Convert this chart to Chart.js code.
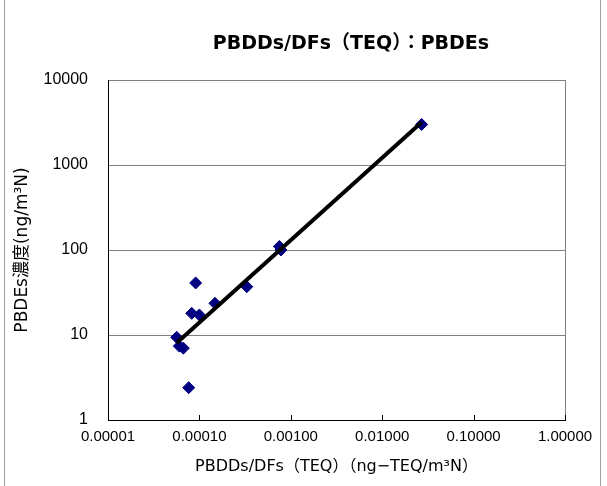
<!DOCTYPE html>
<html>
<head>
<meta charset="utf-8">
<script src="https://cdn.jsdelivr.net/npm/chart.js@4/dist/chart.umd.min.js"></script>
<style>
  html, body { margin: 0; padding: 0; background: #fff; }
  #wrap { width: 607px; height: 486px; position: relative; }
</style>
</head>
<body>
<div id="wrap"><canvas id="myChart" width="607" height="486"></canvas></div>
<script>
// PBDDs/DFs (TEQ) vs PBDEs
var teqValues = [0.027, 0.00075, 0.00078, 0.00033, 0.000148, 0.000091, 0.0000824, 0.0001, 0.0000564, 0.0000603, 0.0000667, 0.0000764];
var pbdeValues = [3000, 110, 100, 37, 23.6, 41, 18, 17.2, 9.4, 7.4, 7.0, 2.4];

var xTicks = [0.00001, 0.0001, 0.001, 0.01, 0.1, 1];
var yTicks = [1, 10, 100, 1000, 10000];

var chartTitle = 'PBDDs/DFs（TEQ）：PBDEs';
var xTitle = 'PBDDs/DFs（TEQ）（ng−TEQ/m³N）';
var yTitle = 'PBDEs濃度(ng/m³N)';

var points = teqValues.map(function (v, i) {
  return { x: v, y: pbdeValues[i] };
});

// power trendline (least squares in log-log space), from min x to max x
var lx = teqValues.map(Math.log10);
var ly = pbdeValues.map(Math.log10);
var n = lx.length;
var mx = lx.reduce(function (a, b) { return a + b; }, 0) / n;
var my = ly.reduce(function (a, b) { return a + b; }, 0) / n;
var sxy = 0, sxx = 0;
for (var i = 0; i < n; i++) {
  sxy += (lx[i] - mx) * (ly[i] - my);
  sxx += (lx[i] - mx) * (lx[i] - mx);
}
var slope = sxy / sxx;
var icpt = my - slope * mx;
var xMin = Math.min.apply(null, teqValues);
var xMax = Math.max.apply(null, teqValues);
var trend = [xMin, xMax].map(function (x) {
  return { x: x, y: Math.pow(10, icpt + slope * Math.log10(x)) };
});

var jpFont = '"DejaVu Sans", "Noto Sans CJK JP", sans-serif';
var numFont = '"Liberation Sans", Arial, sans-serif';

var decorPlugin = {
  id: 'decor',
  beforeDraw: function (chart) {
    var c = chart.ctx;
    c.save();
    c.fillStyle = '#fff';
    c.fillRect(0, 0, chart.width, chart.height);
    c.strokeStyle = '#a0a0a0';
    c.lineWidth = 1;
    c.beginPath();
    c.moveTo(4.5, 0); c.lineTo(4.5, chart.height);
    c.moveTo(600.5, 0); c.lineTo(600.5, chart.height);
    c.stroke();
    c.restore();
  },
  afterDatasetsDraw: function (chart) {
    var c = chart.ctx;
    var a = chart.chartArea;
    var xs = chart.scales.x;
    c.save();
    // right border of plot area
    c.strokeStyle = '#808080';
    c.lineWidth = 1;
    c.beginPath();
    c.moveTo(Math.round(a.right) + 0.5, a.top);
    c.lineTo(Math.round(a.right) + 0.5, a.bottom);
    c.stroke();
    // inner tick marks on x axis
    c.strokeStyle = '#000';
    c.beginPath();
    xTicks.forEach(function (t) {
      var px = Math.round(xs.getPixelForValue(t)) + 0.5;
      c.moveTo(px, a.bottom);
      c.lineTo(px, a.bottom - 5);
    });
    c.stroke();
    // chart title
    c.fillStyle = '#000';
    c.font = 'bold 19px ' + jpFont;
    c.textAlign = 'center';
    c.textBaseline = 'middle';
    c.fillText(chartTitle, 351, 44);
    c.restore();
  }
};

var ctx = document.getElementById('myChart').getContext('2d');
var chart = new Chart(ctx, {
  type: 'scatter',
  data: {
    datasets: [
      {
        label: 'trend',
        type: 'line',
        data: trend,
        borderColor: '#000000',
        borderWidth: 4,
        pointRadius: 0,
        fill: false,
        order: 0
      },
      {
        label: 'PBDEs',
        data: points,
        pointStyle: 'rectRot',
        pointRadius: 6,
        backgroundColor: '#000080',
        borderColor: '#000080',
        borderWidth: 1,
        order: 1
      }
    ]
  },
  options: {
    responsive: false,
    animation: false,
    layout: { padding: { left: 0, right: 42, top: 80, bottom: 0 } },
    plugins: {
      legend: { display: false },
      tooltip: { enabled: false }
    },
    scales: {
      x: {
        type: 'logarithmic',
        min: 0.00001,
        max: 1,
        afterBuildTicks: function (s) { s.ticks = xTicks.map(function (v) { return { value: v }; }); },
        afterFit: function (s) { s.height = 66; },
        grid: { display: false, drawTicks: false },
        border: { display: true, color: '#000', width: 1 },
        ticks: {
          color: '#000',
          font: { family: numFont, size: 15 },
          padding: 8,
          maxRotation: 0,
          autoSkip: false,
          callback: function (v) { return Number(v).toFixed(5); }
        },
        title: {
          display: true,
          text: xTitle,
          color: '#000',
          font: { family: jpFont, size: 16 },
          padding: { top: 0, bottom: 10 }
        }
      },
      y: {
        type: 'logarithmic',
        min: 1,
        max: 10000,
        afterBuildTicks: function (s) { s.ticks = yTicks.map(function (v) { return { value: v }; }); },
        afterFit: function (s) { s.width = 108; },
        grid: { color: '#808080', lineWidth: 1, drawTicks: false },
        border: { display: true, color: '#000', width: 1 },
        ticks: {
          color: '#000',
          font: { family: numFont, size: 16 },
          padding: 20,
          autoSkip: false,
          callback: function (v) { return String(v); }
        },
        title: {
          display: true,
          text: yTitle,
          color: '#000',
          font: { family: jpFont, size: 17 },
          padding: { top: 12, bottom: 0 }
        }
      }
    }
  },
  plugins: [decorPlugin]
});
</script>
</body>
</html>
